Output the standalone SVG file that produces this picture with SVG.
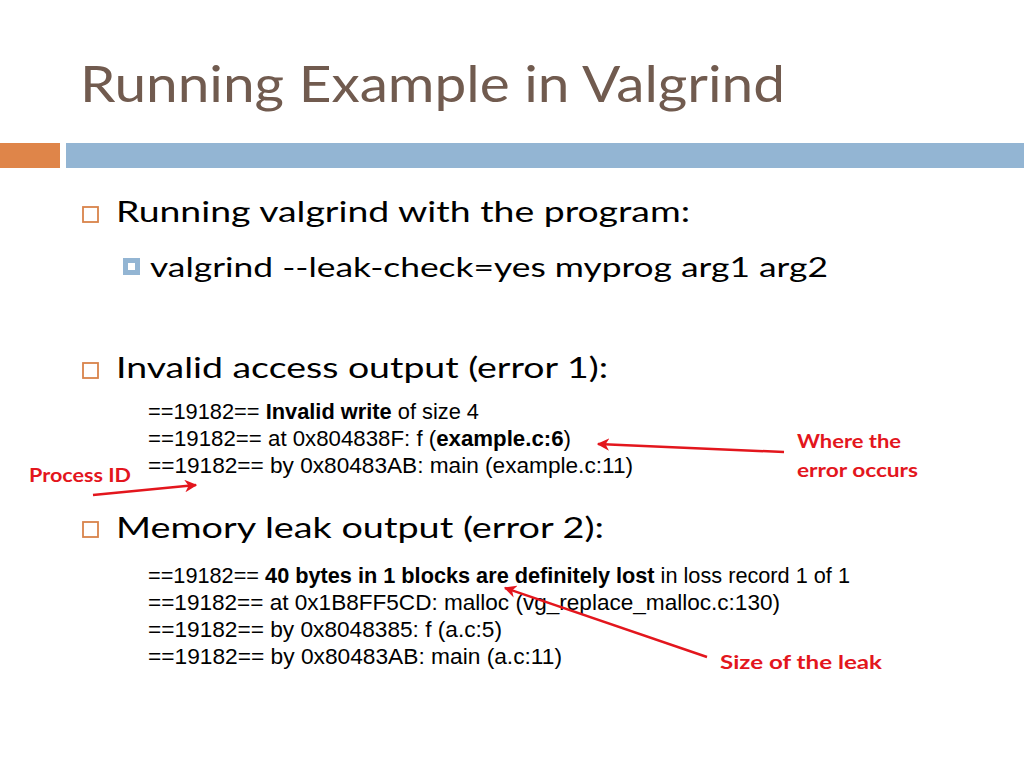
<svg xmlns="http://www.w3.org/2000/svg" width="1024" height="768" viewBox="0 0 1024 768">
<defs>
<style>
.title{font-family:Lato,"Open Sans",sans-serif;font-size:50px;fill:#715B4F}
.body{font-family:Lato,"Open Sans",sans-serif;font-size:29px;fill:#000}
.sub{font-family:Lato,"Open Sans",sans-serif;font-size:26px;fill:#000}
.code{font-family:"Liberation Sans",Arial,sans-serif;font-size:22px;fill:#000}
.b{font-weight:bold}
.lbl{font-family:Lato,"Open Sans",sans-serif;font-weight:bold;font-size:19px;fill:#E3161D}
.arr{stroke:#E3161D;stroke-width:2.5;fill:none;marker-end:url(#ah)}
.bul{fill:none;stroke:#D9834A;stroke-width:1.8}
</style>
<marker id="ah" viewBox="0 0 10 10" refX="9" refY="5" markerWidth="5" markerHeight="5" orient="auto" markerUnits="strokeWidth">
<path d="M0,0 L10,5 L0,10 L3,5 Z" fill="#E3161D"/>
</marker>
</defs>
<rect width="1024" height="768" fill="#fff"/>
<g id="header">
<text class="title" x="80" y="102" textLength="705" lengthAdjust="spacingAndGlyphs">Running Example in Valgrind</text>
<rect x="0" y="143" width="60" height="25" fill="#DF8549"/>
<rect x="66" y="143" width="958" height="25" fill="#93B5D3"/>
</g>
<g id="bullet1">
<rect class="bul" x="83" y="207" width="15" height="15"/>
<text class="body" x="116" y="222" textLength="574" lengthAdjust="spacingAndGlyphs">Running valgrind with the program:</text>
<rect x="123" y="258" width="17" height="17" fill="#93B5D3"/>
<rect x="128" y="263" width="7" height="7" fill="#fff"/>
<text class="sub" x="150" y="277" textLength="678" lengthAdjust="spacingAndGlyphs">valgrind --leak-check=yes myprog arg1 arg2</text>
</g>
<g id="bullet2">
<rect class="bul" x="83" y="363" width="15" height="15"/>
<text class="body" x="116" y="378" textLength="492" lengthAdjust="spacingAndGlyphs">Invalid access output (error 1):</text>
</g>
<g id="code1">
<text class="code" x="148" y="419" textLength="331" lengthAdjust="spacingAndGlyphs">==19182== <tspan class="b">Invalid write</tspan> of size 4</text>
<text class="code" x="148" y="446" textLength="423" lengthAdjust="spacingAndGlyphs">==19182== at 0x804838F: f (<tspan class="b">example.c:6</tspan>)</text>
<text class="code" x="148" y="473" textLength="485" lengthAdjust="spacingAndGlyphs">==19182== by 0x80483AB: main (example.c:11)</text>
</g>
<g id="bullet3">
<rect class="bul" x="83" y="522" width="15" height="15"/>
<text class="body" x="116" y="538" textLength="488" lengthAdjust="spacingAndGlyphs">Memory leak output (error 2):</text>
</g>
<g id="code2">
<text class="code" x="148" y="583" textLength="702" lengthAdjust="spacingAndGlyphs">==19182== <tspan class="b">40 bytes in 1 blocks are definitely lost</tspan> in loss record 1 of 1</text>
<text class="code" x="148" y="610" textLength="632" lengthAdjust="spacingAndGlyphs">==19182== at 0x1B8FF5CD: malloc (vg_replace_malloc.c:130)</text>
<text class="code" x="148" y="637" textLength="354" lengthAdjust="spacingAndGlyphs">==19182== by 0x8048385: f (a.c:5)</text>
<text class="code" x="148" y="664" textLength="414" lengthAdjust="spacingAndGlyphs">==19182== by 0x80483AB: main (a.c:11)</text>
</g>
<g id="label-process">
<text class="lbl" x="29" y="482" textLength="102" lengthAdjust="spacingAndGlyphs">Process ID</text>
</g>
<g id="label-where">
<text class="lbl" x="797" y="448" textLength="104" lengthAdjust="spacingAndGlyphs">Where the</text>
<text class="lbl" x="797" y="477" textLength="121" lengthAdjust="spacingAndGlyphs">error occurs</text>
</g>
<g id="label-size">
<text class="lbl" x="720" y="669" textLength="162" lengthAdjust="spacingAndGlyphs">Size of the leak</text>
</g>
<g id="connectors">
<line class="arr" x1="784" y1="452" x2="598" y2="444"/>
<line class="arr" x1="93" y1="495" x2="196" y2="485"/>
<line class="arr" x1="707" y1="657" x2="505" y2="588"/>
</g>
</svg>
